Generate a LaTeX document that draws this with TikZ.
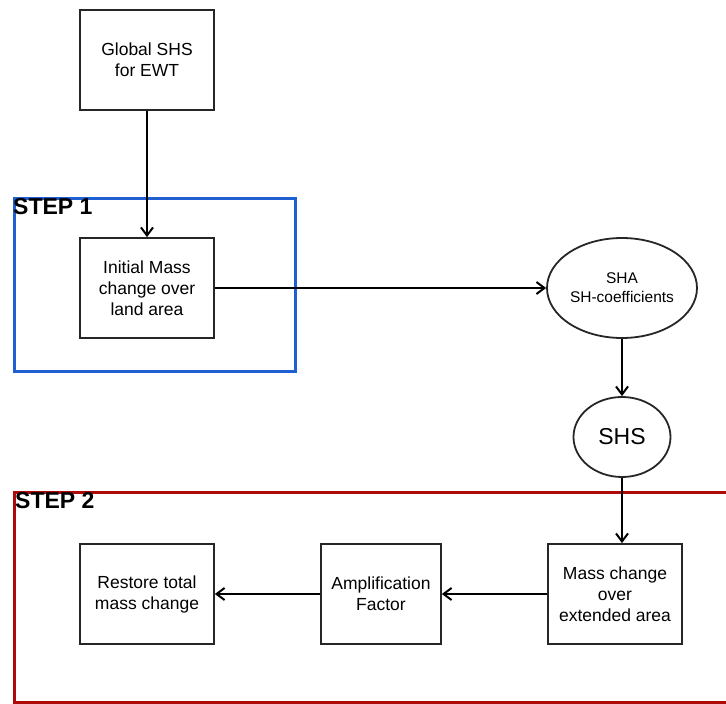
\documentclass[tikz,border=0pt]{standalone}
\usepackage{fontspec}
\setmainfont{Liberation Sans}
\usetikzlibrary{arrows.meta,shapes.geometric}

\definecolor{stepblue}{HTML}{1F5FD2}
\definecolor{stepred}{HTML}{AE0A0A}

\tikzset{
    box/.style={draw=black!85, line width=1.8pt, minimum width=134pt, minimum height=100pt,
        align=center, inner sep=2pt, font=\fontsize{17.5}{21}\selectfont},
    blob/.style={ellipse, draw=black!85, line width=1.8pt, inner sep=0pt, align=center},
    flow/.style={line width=2pt, -{Straight Barb[length=8pt,width=12pt,line width=2pt]}},
    steplabel/.style={anchor=north west, inner sep=0pt, font=\fontsize{23}{25}\selectfont\bfseries},
}

\begin{document}
\begin{tikzpicture}[x=1pt, y=-1pt]
    \useasboundingbox (0,0) rectangle (726,704);
    \clip (0,0) rectangle (726,704);

    % the two step frames
    \draw[stepblue, line width=3pt] (14,198) rectangle (295,371);
    \node[steplabel] (step1) at (13,198) {STEP 1};
    \draw[stepred, line width=3pt] (14,492) rectangle (760,702);
    \node[steplabel] (step2) at (15,492) {STEP 2};

    % boxes and ellipses
    \node[box] (global) at (147,60) {Global SHS\\for EWT};
    \node[box] (initial) at (147,288) {Initial Mass\\change over\\land area};
    \node[blob, minimum width=150pt, minimum height=100pt, font=\fontsize{15.5}{19}\selectfont]
        (sha) at (622,288) {SHA\\SH-coefficients};
    \node[blob, minimum width=97pt, minimum height=80pt, font=\fontsize{23}{26}\selectfont]
        (shs) at (622,437) {SHS};
    \node[box] (extended) at (615,594) {Mass change\\over\\extended area};
    \node[box, minimum width=120pt] (amp) at (381,594) {Amplification\\Factor};
    \node[box] (restore) at (147,594) {Restore total\\mass change};

    % connectors
    \draw[flow] (global) -- (initial);
    \draw[flow] (initial) -- (sha);
    \draw[flow] (sha) -- (shs);
    \draw[flow] (shs.south) -- (shs.south |- extended.north);
    \draw[flow] (extended) -- (amp);
    \draw[flow] (amp) -- (restore);
\end{tikzpicture}
\end{document}
